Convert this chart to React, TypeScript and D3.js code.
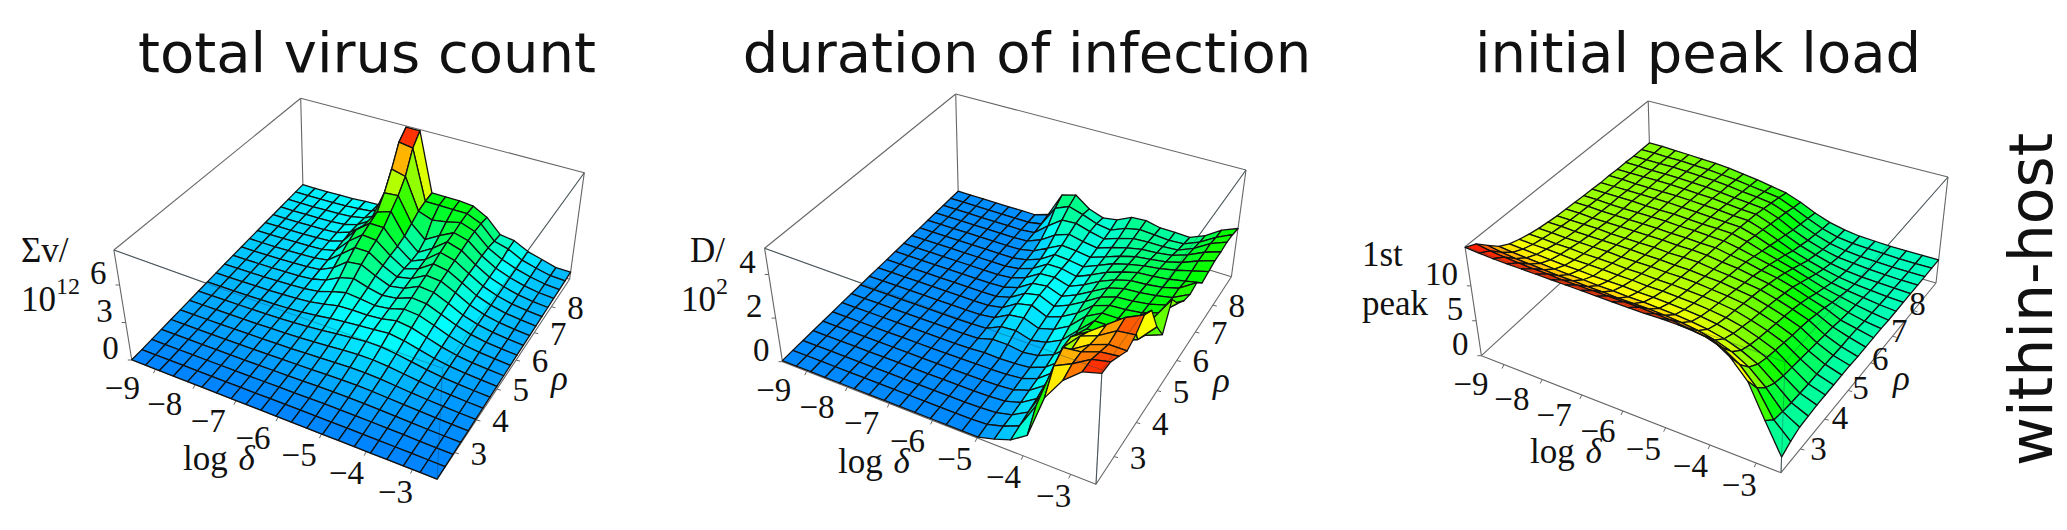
import React from 'react';
import * as d3 from 'd3';

type Pt = [number, number];

const W = 2067;
const H = 530;

const deltaTicks = [-9, -8, -7, -6, -5, -4, -3];
const rhoTicks = [3, 4, 5, 6, 7, 8];
const GRID_N = 20; // 21 x 21 samples, rows run along rho, columns along log delta

// rows: rho low -> high, columns: log delta -9 -> -3
const totalVirus = [
  [.02,.02,.02,.02,.02,.02,.02,.02,.02,.02,.02,.02,.02,.02,.02,.02,.02,.02,.02,.02,.02],
  [.06,.06,.06,.07,.07,.07,.08,.08,.08,.09,.09,.10,.10,.10,.10,.10,.09,.08,.07,.06,.05],
  [.12,.12,.12,.13,.13,.14,.15,.15,.16,.18,.18,.20,.21,.21,.20,.19,.17,.15,.12,.10,.08],
  [.18,.18,.19,.19,.20,.21,.22,.23,.25,.27,.28,.31,.33,.33,.31,.28,.24,.20,.16,.13,.11],
  [.24,.24,.25,.26,.27,.28,.30,.32,.34,.37,.40,.44,.47,.47,.44,.38,.32,.26,.20,.16,.14],
  [.30,.31,.31,.32,.34,.36,.38,.41,.44,.49,.54,.60,.65,.65,.60,.50,.40,.32,.25,.20,.17],
  [.36,.37,.38,.39,.41,.43,.47,.51,.56,.63,.70,.80,.88,.88,.78,.64,.50,.38,.30,.24,.20],
  [.42,.43,.44,.46,.48,.51,.55,.61,.69,.80,.92,1.05,1.15,1.15,1.00,.80,.60,.45,.35,.28,.23],
  [.48,.49,.50,.52,.55,.59,.64,.72,.85,1.02,1.15,1.25,1.35,1.45,1.28,1.00,.72,.52,.40,.32,.26],
  [.54,.55,.56,.59,.62,.66,.73,.84,1.05,1.30,1.35,1.35,1.45,1.70,1.55,1.20,.85,.60,.45,.36,.29],
  [.60,.61,.63,.65,.69,.74,.82,.98,1.35,1.65,1.55,1.40,1.55,1.90,1.80,1.40,.97,.67,.50,.40,.32],
  [.66,.67,.69,.72,.76,.81,.92,1.20,1.80,2.10,1.75,1.50,1.65,2.10,2.00,1.55,1.08,.74,.54,.43,.35],
  [.71,.72,.74,.77,.82,.88,1.02,1.55,2.40,2.55,2.00,1.55,1.75,2.30,2.20,1.70,1.15,.80,.58,.46,.37],
  [.76,.77,.79,.83,.87,.94,1.12,2.00,2.90,2.90,2.15,1.60,1.85,2.50,2.40,1.85,1.25,.85,.62,.49,.40],
  [.81,.82,.84,.88,.92,1.00,1.25,2.40,3.30,3.20,2.30,1.60,1.95,2.75,2.55,1.95,1.30,.90,.65,.52,.42],
  [.86,.87,.89,.93,.97,1.06,1.40,2.70,3.60,3.60,2.40,1.55,2.05,3.00,2.70,2.00,1.35,.95,.68,.54,.45],
  [.91,.92,.94,.98,1.02,1.12,1.50,2.40,3.90,4.30,2.60,1.60,2.30,3.20,2.85,2.05,1.40,1.00,.72,.56,.47],
  [.96,.97,.99,1.03,1.07,1.17,1.50,2.20,4.90,5.00,3.00,2.00,2.70,3.30,3.00,2.10,1.45,1.05,.76,.58,.50],
  [1.01,1.02,1.04,1.08,1.12,1.22,1.45,2.00,6.30,6.00,3.40,3.00,3.20,3.50,3.10,2.10,1.50,1.10,.80,.60,.52],
  [1.06,1.07,1.09,1.13,1.17,1.27,1.40,2.00,8.00,7.80,3.60,3.60,3.60,3.60,3.10,2.00,1.70,1.15,.85,.60,.55],
  [1.10,1.11,1.13,1.17,1.20,1.30,1.35,1.60,8.70,8.70,3.70,3.70,3.70,3.60,3.00,1.90,1.75,1.20,.90,.60,.60],
];

const duration = [
  [.05,.05,.05,.05,.05,.05,.05,.05,.05,.05,.05,.05,.05,.05,.25,.50,1.0,3.0,4.1,4.8,5.05],
  [.06,.06,.06,.06,.06,.06,.06,.06,.06,.06,.06,.06,.06,.10,.30,.60,1.8,3.9,4.3,4.8,5.0],
  [.06,.06,.06,.06,.06,.06,.06,.06,.06,.06,.06,.06,.08,.12,.30,.70,2.0,4.2,4.3,4.6,4.7],
  [.07,.07,.07,.07,.07,.07,.07,.07,.07,.07,.07,.07,.09,.14,.35,.80,2.4,3.6,4.1,4.4,4.4],
  [.07,.07,.07,.07,.07,.07,.07,.07,.07,.07,.07,.08,.10,.16,.40,.90,2.9,3.7,4.0,4.5,4.6],
  [.07,.07,.07,.07,.07,.07,.07,.07,.07,.08,.09,.10,.12,.20,.45,1.0,2.9,3.4,4.0,4.6,5.0],
  [.08,.08,.08,.08,.08,.08,.08,.08,.08,.09,.15,.12,.15,.22,.50,1.05,2.6,2.7,3.0,4.0,4.7],
  [.08,.08,.08,.08,.08,.08,.08,.08,.08,.10,.30,.30,.20,.30,.60,1.2,2.3,2.3,2.3,2.6,3.45],
  [.08,.08,.08,.08,.08,.08,.08,.08,.09,.12,.45,.50,.30,.45,.80,1.5,2.2,2.2,2.2,2.3,2.6],
  [.08,.08,.08,.08,.08,.08,.08,.08,.09,.18,.55,.65,.40,.60,1.0,1.7,2.1,2.1,2.2,2.6,3.75],
  [.08,.08,.08,.08,.08,.08,.08,.08,.09,.22,.65,.80,.50,.75,1.15,1.75,2.0,2.05,2.15,2.4,3.1],
  [.08,.08,.08,.08,.08,.08,.08,.08,.10,.28,.70,.85,.55,.85,1.25,1.7,1.95,2.0,2.1,2.3,2.75],
  [.08,.08,.08,.08,.08,.08,.08,.08,.12,.32,.75,.85,.60,.90,1.3,1.7,1.9,1.95,2.05,2.2,2.6],
  [.08,.08,.08,.08,.08,.08,.08,.08,.15,.38,.80,.85,.65,.95,1.35,1.65,1.85,1.9,2.0,2.2,2.7],
  [.08,.08,.08,.08,.08,.08,.08,.08,.18,.42,.85,.85,.70,1.0,1.35,1.6,1.8,1.85,1.95,2.1,2.25],
  [.08,.08,.08,.08,.08,.08,.08,.08,.20,.46,.90,.85,.75,1.05,1.35,1.55,1.7,1.8,1.95,2.15,2.35],
  [.08,.08,.08,.08,.08,.08,.08,.10,.25,.60,.95,.90,.80,1.05,1.3,1.5,1.6,1.7,1.9,2.2,2.45],
  [.08,.08,.08,.08,.08,.08,.08,.12,.40,.85,1.1,.95,.85,1.1,1.3,1.45,1.5,1.6,1.85,2.2,2.45],
  [.08,.08,.08,.08,.08,.08,.08,.15,.70,1.2,1.25,1.05,.90,1.15,1.35,1.4,1.4,1.45,1.75,2.2,2.5],
  [.08,.08,.08,.08,.08,.08,.08,.20,1.20,1.5,1.3,1.05,.95,1.25,1.4,1.35,1.3,1.35,1.65,2.1,2.45],
  [.08,.08,.08,.08,.08,.08,.08,.30,1.50,1.7,1.2,.96,1.07,1.4,1.45,1.3,1.3,1.26,1.57,2.05,2.35],
];

const firstPeak = [
  [15.5,15.4,15.3,15.3,15.3,15.3,15.3,15.3,15.3,15.3,15.3,15.3,15.3,15.4,15.4,15.3,15.0,13.5,11.0,6.4,2.2],
  [14.8,14.5,14.3,14.2,14.1,14.1,14.0,14.0,14.0,14.0,14.0,14.0,13.9,13.8,13.5,13.2,12.5,11.0,8.6,5.0,2.9],
  [13.4,13.1,12.9,12.8,12.7,12.6,12.6,12.5,12.5,12.4,12.4,12.4,12.3,12.1,11.8,11.3,10.5,9.2,7.2,4.7,3.4],
  [12.1,11.9,11.8,11.7,11.6,11.5,11.5,11.4,11.4,11.3,11.3,11.2,11.1,10.9,10.6,10.1,9.3,8.2,6.4,4.5,3.5],
  [11.3,11.2,11.1,11.0,10.9,10.9,10.8,10.8,10.8,10.7,10.7,10.6,10.5,10.3,10.0,9.5,8.7,7.7,6.0,4.4,3.6],
  [10.8,10.7,10.7,10.6,10.5,10.5,10.5,10.4,10.4,10.3,10.3,10.2,10.1,9.9,9.6,9.1,8.3,7.4,5.8,4.3,3.6],
  [10.4,10.4,10.3,10.3,10.2,10.2,10.2,10.1,10.1,10.0,10.0,9.9,9.8,9.6,9.3,8.7,8.0,7.1,5.6,4.3,3.6],
  [10.1,10.1,10.0,10.0,10.0,10.0,9.9,9.9,9.9,9.8,9.8,9.7,9.5,9.3,9.0,8.4,7.7,6.8,5.4,4.3,3.6],
  [9.9,9.9,9.8,9.8,9.8,9.8,9.8,9.7,9.7,9.6,9.6,9.4,9.3,9.0,8.7,8.1,7.4,6.6,5.2,4.2,3.6],
  [9.7,9.7,9.7,9.7,9.6,9.6,9.6,9.6,9.5,9.5,9.5,9.2,9.0,8.7,8.4,7.8,7.1,6.3,5.0,4.1,3.5],
  [9.6,9.6,9.5,9.5,9.5,9.5,9.5,9.5,9.4,9.4,9.3,9.0,8.8,8.4,8.0,7.4,6.7,5.9,4.8,4.1,3.5],
  [9.5,9.5,9.4,9.4,9.4,9.4,9.4,9.3,9.3,9.2,9.2,8.8,8.5,8.0,7.6,7.0,6.2,5.5,4.5,4.0,3.5],
  [9.4,9.4,9.3,9.3,9.3,9.3,9.3,9.2,9.2,9.1,9.0,8.6,8.1,7.6,7.1,6.4,5.6,5.0,4.3,3.8,3.5],
  [9.3,9.3,9.3,9.3,9.2,9.2,9.2,9.1,9.0,9.0,8.9,8.4,7.7,7.1,6.5,5.8,5.1,4.6,4.1,3.7,3.4],
  [9.2,9.2,9.2,9.2,9.2,9.2,9.1,9.0,8.9,8.8,8.7,8.1,7.3,6.6,5.9,5.2,4.6,4.2,3.9,3.6,3.4],
  [9.2,9.2,9.1,9.1,9.1,9.1,9.0,8.9,8.8,8.6,8.5,7.8,6.9,6.0,5.3,4.7,4.2,3.9,3.7,3.5,3.4],
  [9.1,9.1,9.1,9.1,9.1,9.0,8.9,8.8,8.6,8.4,8.3,7.5,6.5,5.6,4.9,4.3,3.9,3.7,3.6,3.5,3.4],
  [9.1,9.1,9.0,9.0,9.0,8.9,8.8,8.6,8.4,8.2,8.0,7.2,6.1,5.2,4.5,4.0,3.8,3.6,3.5,3.4,3.4],
  [9.0,9.0,9.0,9.0,8.9,8.8,8.7,8.5,8.2,8.0,7.7,6.9,5.8,4.9,4.2,3.8,3.6,3.5,3.4,3.4,3.4],
  [9.0,9.0,8.9,8.9,8.8,8.7,8.5,8.3,8.0,7.7,7.4,6.5,5.5,4.6,4.0,3.7,3.6,3.5,3.4,3.4,3.4],
  [9.0,9.0,8.9,8.8,8.7,8.6,8.4,8.1,7.8,7.4,7.0,6.2,5.2,4.4,3.9,3.6,3.5,3.4,3.4,3.4,3.4],
];

// box corners on screen: floor A B C D, then the same four at the top of the box
const panels = [
  {
    title: 'total virus count', titleX: 367, values: totalVirus, zMax: 8.8, zTicks: [0, 3, 6],
    floor: [[131.8, 360], [437.1, 479.3], [569.6, 279.3], [303.2, 197]] as Pt[],
    top: [[113.9, 250], [442.5, 368.3], [584.3, 172.7], [300.7, 98.3]] as Pt[],
    logAt: [183, 470] as Pt, rhoAt: [551, 390] as Pt, rhoDx: [24, 24], rhoDy: [12, 12],
  },
  {
    title: 'duration of infection', titleX: 1027, values: duration, zMax: 5.2, zTicks: [0, 2, 4],
    floor: [[782.5, 361.7], [1096, 484.3], [1231.4, 276.7], [958.2, 192.7]] as Pt[],
    top: [[764.6, 248.3], [1102, 370], [1246, 170], [955.7, 94]] as Pt[],
    logAt: [838, 473] as Pt, rhoAt: [1213, 392] as Pt, rhoDx: [24, 24], rhoDy: [12, 12],
  },
  {
    title: 'initial peak load', titleX: 1698, values: firstPeak, zMax: 15.6, zTicks: [0, 5, 10],
    floor: [[1481.4, 355.7], [1781, 472.7], [1936, 283], [1651, 200]] as Pt[],
    top: [[1465, 246.7], [1785, 362], [1948, 177], [1648.2, 101]] as Pt[],
    logAt: [1530, 463] as Pt, rhoAt: [1893, 390] as Pt, rhoDx: [18, 4], rhoDy: [11, 4],
  },
];

// unit square -> quad (perspective)
function homography(q: Pt[]) {
  const [[x0, y0], [x1, y1], [x2, y2], [x3, y3]] = q;
  const dx1 = x1 - x2, dx2 = x3 - x2, sx = x0 - x1 + x2 - x3;
  const dy1 = y1 - y2, dy2 = y3 - y2, sy = y0 - y1 + y2 - y3;
  const det = dx1 * dy2 - dx2 * dy1;
  const g = (sx * dy2 - dx2 * sy) / det;
  const h = (dx1 * sy - sx * dy1) / det;
  const a = x1 - x0 + g * x1, b = x3 - x0 + h * x3;
  const d = y1 - y0 + g * y1, e = y3 - y0 + h * y3;
  return (u: number, v: number): Pt => {
    const k = g * u + h * v + 1;
    return [(a * u + b * v + x0) / k, (d * u + e * v + y0) / k];
  };
}

const serif = '"Liberation Serif", serif';
const sans = '"DejaVu Sans", sans-serif';
const boxColor = '#666';
const textColor = '#111';

function Panel({ p }: { p: (typeof panels)[number] }) {
  const onFloor = homography(p.floor);
  const onTop = homography(p.top);
  const zScale = d3.scaleLinear().domain([0, p.zMax]).range([0, 1]);
  const project = (u: number, v: number, z: number): Pt => {
    const a = onFloor(u, v), b = onTop(u, v), w = zScale(z);
    return [a[0] + (b[0] - a[0]) * w, a[1] + (b[1] - a[1]) * w];
  };
  const gridScale = d3.scaleLinear().domain([0, GRID_N]).range([0, 1]);
  const deltaScale = d3.scaleLinear().domain([-9.61, -2.48]).range([0, 1]);
  const rhoScale = d3.scaleLinear().domain([2.23, 9.12]).range([0, 1]);
  const hue = d3.scaleLinear().domain([0, p.zMax]).range([210, 0]);
  const labelDx = d3.scaleLinear().domain([-9, -3]).range([-33, -17]);
  const labelDy = d3.scaleLinear().domain([-9, -3]).range([30, 33]);
  const rhoLabelDx = d3.scaleLinear().domain([3, 8]).range(p.rhoDx);
  const rhoLabelDy = d3.scaleLinear().domain([3, 8]).range(p.rhoDy);
  const line = d3.line();

  // far rows first, and from the far side of each row towards the viewer
  const cells: { path: string; fill: string }[] = [];
  for (let i = GRID_N - 1; i >= 0; i--) {
    for (let j = 0; j < GRID_N; j++) {
      const corners: [number, number][] = [[i, j], [i, j + 1], [i + 1, j + 1], [i + 1, j]];
      const pts = corners.map(([r, c]) => project(gridScale(c), gridScale(r), p.values[r][c]));
      const mean = d3.mean(corners, ([r, c]) => p.values[r][c]) as number;
      cells.push({ path: line(pts) + 'Z', fill: d3.hsl(hue(mean), 1, 0.5).formatHex() });
    }
  }

  const [A, B, C, D] = p.floor;
  const [A1, B1, C1, D1] = p.top;
  const boxEdges = [[A, B], [B, C], [C, D], [D, A], [A1, D1], [D1, C1], [A, A1], [D, D1], [C, C1], [A1, B1], [B1, C1], [B, B1]];
  const frontEdges = [[A1, B1], [B1, C1], [B, B1]];

  return (
    <g>
      <text x={p.titleX} y={72} textAnchor="middle" fontFamily={sans} fontSize={56} fill={textColor}>{p.title}</text>
      {boxEdges.map((e, k) => <path key={k} d={line(e as Pt[]) as string} stroke={boxColor} strokeWidth={1.1} fill="none" />)}
      {deltaTicks.map(t => {
        const a = project(deltaScale(t), 0, 0);
        return (
          <g key={t}>
            <line x1={a[0]} y1={a[1]} x2={a[0] - 2} y2={a[1] + 4} stroke={boxColor} />
            <text x={a[0] + labelDx(t)} y={a[1] + labelDy(t)} textAnchor="middle" fontFamily={serif} fontSize={33} fill={textColor}>{'\u2212' + Math.abs(t)}</text>
          </g>
        );
      })}
      {rhoTicks.map(t => {
        const a = project(1, rhoScale(t), 0);
        return (
          <g key={t}>
            <line x1={a[0]} y1={a[1]} x2={a[0] + 4} y2={a[1] + 1} stroke={boxColor} />
            <text x={a[0] + rhoLabelDx(t)} y={a[1] + rhoLabelDy(t)} textAnchor="middle" fontFamily={serif} fontSize={33} fill={textColor}>{t}</text>
          </g>
        );
      })}
      {p.zTicks.map(t => {
        const a = project(0, 0, t);
        return (
          <g key={t}>
            <line x1={a[0]} y1={a[1]} x2={a[0] - 4} y2={a[1]} stroke={boxColor} />
            <text x={a[0] - 13} y={a[1] - 1} textAnchor="end" fontFamily={serif} fontSize={33} fill={textColor}>{t}</text>
          </g>
        );
      })}
      {cells.map((c, k) => (
        <path key={k} d={c.path} fill={c.fill} stroke="#111" strokeWidth={1.3} strokeLinejoin="round" />
      ))}
      {frontEdges.map((e, k) => <path key={k} d={line(e as Pt[]) as string} stroke="#0b3a4a" strokeOpacity={0.35} strokeWidth={1} fill="none" />)}
      <text x={p.logAt[0]} y={p.logAt[1]} fontFamily={serif} fontSize={35} fill={textColor}>log <tspan fontStyle="italic" dx={2}>{'\u03B4'}</tspan></text>
      <text x={p.rhoAt[0]} y={p.rhoAt[1]} fontFamily={serif} fontStyle="italic" fontSize={35} fill={textColor}>{'\u03C1'}</text>
    </g>
  );
}

function ZLabel({ x, y, first, second, power, secondX }: { x: number; y: number; first: string; second: string; power?: string; secondX?: number }) {
  return (
    <g fontFamily={serif} fontSize={35} fill={textColor}>
      <text x={x} y={y}>{first}</text>
      <text x={secondX ?? x} y={y + 49}>{second}{power ? <tspan fontSize={24} dy={-17}>{power}</tspan> : null}</text>
    </g>
  );
}

export default function App() {
  return (
    <svg width={W} height={H} viewBox={`0 0 ${W} ${H}`} style={{ position: 'absolute', left: 0, top: 0, background: '#fff' }}>
      {panels.map(p => <Panel key={p.title} p={p} />)}
      <ZLabel x={21} y={262} first={'\u03A3v/'} second="10" power="12" />
      <ZLabel x={690} y={262} first="D/" second="10" power="2" secondX={681} />
      <ZLabel x={1362} y={266} first="1st" second="peak" />
      <text transform="translate(2052,466) rotate(-90)" fontFamily={sans} fontSize={60} fill={textColor}>within-host</text>
    </svg>
  );
}
